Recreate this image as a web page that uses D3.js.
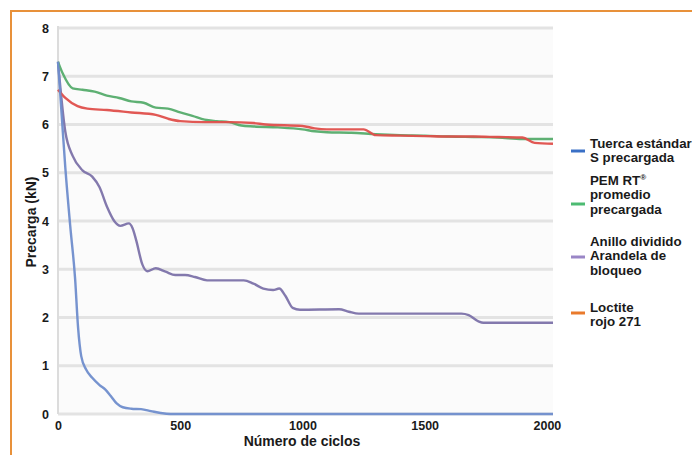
<!DOCTYPE html>
<html>
<head>
<meta charset="utf-8">
<script src="https://cdn.jsdelivr.net/npm/d3@7"></script>
<style>
  html, body { margin: 0; padding: 0; background: #ffffff; }
  svg { display: block; }
  text { font-family: "Liberation Sans", Arial, Helvetica, sans-serif; font-weight: bold; fill: #1a1a1a; }
</style>
</head>
<body>
<svg id="chart" width="692" height="455"></svg>
<script>
// ---- data ----
const xTicks = [0, 500, 1000, 1500, 2000];
const yTicks = [0, 1, 2, 3, 4, 5, 6, 7, 8];
const xTitle = "Número de ciclos";
const yTitle = "Precarga (kN)";

const blueCycles = [0, 15, 30, 50, 70, 82, 95, 115, 140, 170, 195, 215, 240, 265, 300, 340, 380, 420, 460, 1000, 2025];
const blueValues = [7.3, 6.2, 5.1, 3.9, 2.8, 1.8, 1.2, 0.92, 0.75, 0.6, 0.5, 0.38, 0.22, 0.14, 0.11, 0.1, 0.06, 0.02, 0, 0, 0];

const greenCycles = [0, 20, 60, 100, 150, 200, 250, 300, 350, 400, 450, 500, 550, 600, 650, 700, 750, 800, 900, 1000, 1050, 1100, 1200, 1300, 1400, 1500, 1600, 1700, 1800, 1900, 2025];
const greenValues = [7.3, 7.05, 6.75, 6.72, 6.68, 6.6, 6.55, 6.48, 6.45, 6.35, 6.33, 6.25, 6.18, 6.1, 6.07, 6.05, 5.98, 5.96, 5.94, 5.9, 5.86, 5.84, 5.83, 5.8, 5.78, 5.77, 5.75, 5.74, 5.73, 5.7, 5.7];

const purpleCycles = [0, 30, 60, 100, 140, 170, 200, 230, 255, 290, 305, 320, 345, 365, 400, 440, 480, 520, 560, 610, 700, 760, 800, 840, 880, 905, 930, 960, 990, 1150, 1190, 1230, 1650, 1680, 1720, 1740, 2025];
const purpleValues = [7.3, 5.85, 5.35, 5.05, 4.92, 4.7, 4.3, 4.0, 3.9, 3.95, 3.85, 3.6, 3.1, 2.96, 3.02, 2.95, 2.88, 2.88, 2.84, 2.77, 2.77, 2.77, 2.7, 2.6, 2.57, 2.6, 2.45, 2.2, 2.16, 2.17, 2.12, 2.08, 2.08, 2.05, 1.92, 1.89, 1.89];

const redCycles = [0, 30, 80, 120, 200, 300, 400, 450, 500, 600, 700, 800, 850, 1000, 1050, 1100, 1250, 1300, 1400, 1500, 1600, 1700, 1800, 1900, 1950, 2025];
const redValues = [6.72, 6.55, 6.38, 6.33, 6.3, 6.25, 6.2, 6.12, 6.07, 6.05, 6.05, 6.03, 6.0, 5.97, 5.92, 5.9, 5.9, 5.78, 5.77, 5.76, 5.75, 5.75, 5.74, 5.73, 5.62, 5.6];

const seriesNames = ["Tuerca estándar|S precargada", "PEM RT®|promedio|precargada", "Anillo dividido|Arandela de|bloqueo", "Loctite|rojo 271"];
const lineColors = ["#6f8dcc", "#55ac6c", "#7c72a9", "#df4f4b"];
const legendColors = ["#3a70c6", "#4dbb72", "#9a86c6", "#e97a2c"];

// ---- drawing ----
const svg = d3.select("#chart");
const x = d3.scaleLinear().domain([0, 2025]).range([58, 553]);
const y = d3.scaleLinear().domain([0, 8]).range([414, 28]);

// orange frame
svg.append("path").attr("d", "M11,455 V11 H692")
  .attr("fill", "none").attr("stroke", "#e8913a").attr("stroke-width", 2);

// plot background
svg.append("rect").attr("x", x(0)).attr("y", y(8))
  .attr("width", x(2025) - x(0)).attr("height", y(0) - y(8)).attr("fill", "#fbfbfb");

// grid
svg.append("g").selectAll("line").data(yTicks).join("line")
  .attr("x1", x(0)).attr("x2", x(2025))
  .attr("y1", d => y(d)).attr("y2", d => y(d))
  .attr("stroke", "#e3e3e3").attr("stroke-width", 3);

// left axis line
svg.append("line").attr("x1", x(0)).attr("x2", x(0)).attr("y1", y(8) - 2).attr("y2", y(0))
  .attr("stroke", "#dcdcdc").attr("stroke-width", 2);

// axes
const yAxis = svg.append("g").attr("transform", `translate(${x(0) - 6},0)`)
  .call(d3.axisLeft(y).tickValues(yTicks).tickSize(0).tickFormat(d3.format("d")));
yAxis.select(".domain").remove();
yAxis.selectAll("text").attr("font-size", 12.5).style("font-family", "'Liberation Sans', Arial, sans-serif").style("font-weight", "bold").attr("fill", "#1a1a1a");

const xAxis = svg.append("g").attr("transform", `translate(0,${y(0) + 4})`)
  .call(d3.axisBottom(x).tickValues(xTicks).tickSize(0).tickFormat(d3.format("d")));
xAxis.select(".domain").remove();
xAxis.selectAll("text").attr("font-size", 12.5).style("font-family", "'Liberation Sans', Arial, sans-serif").style("font-weight", "bold").attr("fill", "#1a1a1a");

// titles
svg.append("text").attr("x", 302).attr("y", 446).attr("text-anchor", "middle")
  .attr("font-size", 14).text(xTitle);
svg.append("text").attr("transform", "translate(36,222) rotate(-90)").attr("text-anchor", "middle")
  .attr("font-size", 14).text(yTitle);

// lines
const line = d3.line().x(d => x(d[0])).y(d => y(d[1])).curve(d3.curveMonotoneX);
const seriesData = [
  d3.zip(blueCycles, blueValues),
  d3.zip(greenCycles, greenValues),
  d3.zip(purpleCycles, purpleValues),
  d3.zip(redCycles, redValues)
];
const drawOrder = [2, 1, 3, 0];
drawOrder.forEach(i => {
  svg.append("path").datum(seriesData[i]).attr("d", line)
    .attr("fill", "none").attr("stroke", lineColors[i]).attr("stroke-width", 2.4)
    .attr("stroke-linejoin", "round").attr("stroke-opacity", 0.95);
});

// legend
const legendTop = [147.5, 184.5, 245.5, 311.5];
const swatchY = [151, 204, 257, 313];
const lh = 14.5;
seriesNames.forEach((name, i) => {
  svg.append("line").attr("x1", 571).attr("x2", 585)
    .attr("y1", swatchY[i]).attr("y2", swatchY[i])
    .attr("stroke", legendColors[i]).attr("stroke-width", 3);
  const t = svg.append("text").attr("font-size", 13.3);
  name.split("|").forEach((ln, k) => {
    const ts = t.append("tspan").attr("x", 590).attr("y", legendTop[i] + k * lh);
    if (ln.endsWith("®")) {
      ts.text(ln.slice(0, -1));
      t.append("tspan").attr("font-size", 8).attr("dy", -5).text("®");
    } else {
      ts.text(ln);
    }
  });
});
</script>
</body>
</html>
